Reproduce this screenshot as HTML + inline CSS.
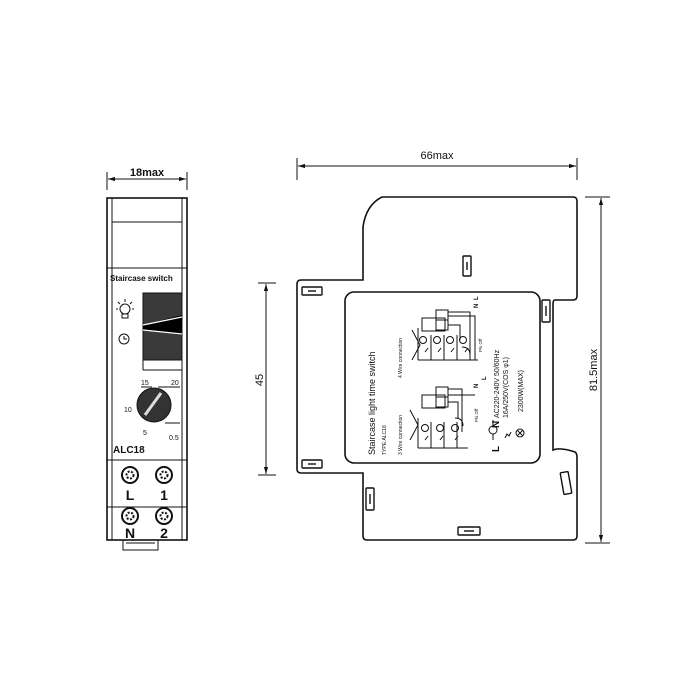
<!DOCTYPE html>
<html><head><meta charset="utf-8"><style>
html,body{margin:0;padding:0;background:#fff;}
svg{display:block;}
text{font-family:"Liberation Sans",sans-serif;fill:#111;}
</style></head><body>
<svg width="700" height="700" viewBox="0 0 700 700" xmlns="http://www.w3.org/2000/svg">
<defs>
<marker id="a" viewBox="0 0 10 10" refX="10" refY="5" markerWidth="7" markerHeight="7" orient="auto-start-reverse"><path d="M0,2 L10,5 L0,8 z" fill="#111"/></marker>
</defs>
<g stroke="#111" fill="none" stroke-width="1">
<line x1="107" y1="172" x2="107" y2="190"/><line x1="187" y1="172" x2="187" y2="190"/>
<line x1="108" y1="179" x2="186" y2="179" marker-start="url(#a)" marker-end="url(#a)"/>
<rect x="107" y="198" width="80" height="342" stroke-width="1.6"/>
<line x1="112" y1="198" x2="112" y2="540"/><line x1="182" y1="198" x2="182" y2="540"/>
<rect x="112" y="198" width="70" height="24"/>
<line x1="107" y1="268" x2="187" y2="268"/>
<rect x="143" y="293" width="39" height="67" fill="#3a3a3a"/>
<path d="M143,325 L182,315 L182,335 L143,330 z" fill="#000" stroke="none"/>
<path d="M143,325 L182,317 M143,330 L182,334" stroke="#fff" stroke-width="1.2"/>
<line x1="143" y1="360" x2="143" y2="370"/><line x1="143" y1="370" x2="182" y2="370"/>
<circle cx="125" cy="309" r="5"/><rect x="122" y="314" width="6" height="4"/>
<path d="M118,302 l2,2 M125,299 v3 M132,302 l-2,2 M116,309 h2 M134,309 h-2"/>
<circle cx="124" cy="339" r="5"/><path d="M124,336 v3 h3"/>
<circle cx="154" cy="405" r="17" fill="#333"/>
<line x1="145" y1="415" x2="161" y2="393" stroke="#ddd" stroke-width="3"/>
<line x1="141" y1="387" x2="152" y2="387"/><line x1="158" y1="387" x2="180" y2="387"/>
<line x1="165" y1="423" x2="180" y2="423"/>
<line x1="107" y1="460" x2="187" y2="460"/>
<line x1="107" y1="507" x2="187" y2="507"/>
<g stroke-width="2">
<circle cx="130" cy="475" r="8"/><circle cx="130" cy="475" r="3.5" stroke-dasharray="2 1.5"/>
<circle cx="164" cy="475" r="8"/><circle cx="164" cy="475" r="3.5" stroke-dasharray="2 1.5"/>
<circle cx="130" cy="516" r="8"/><circle cx="130" cy="516" r="3.5" stroke-dasharray="2 1.5"/>
<circle cx="164" cy="516" r="8"/><circle cx="164" cy="516" r="3.5" stroke-dasharray="2 1.5"/>
</g>
<path d="M123,540 v10 h35 v-10"/>
<line x1="126" y1="543" x2="155" y2="543"/>

<line x1="297" y1="158" x2="297" y2="180"/><line x1="577" y1="158" x2="577" y2="180"/>
<line x1="298" y1="166" x2="576" y2="166" marker-start="url(#a)" marker-end="url(#a)"/>
<line x1="258" y1="283" x2="276" y2="283"/><line x1="258" y1="475" x2="276" y2="475"/>
<line x1="266" y1="284" x2="266" y2="474" marker-start="url(#a)" marker-end="url(#a)"/>
<line x1="585" y1="197" x2="610" y2="197"/><line x1="585" y1="543" x2="610" y2="543"/>
<line x1="601" y1="198" x2="601" y2="542" marker-start="url(#a)" marker-end="url(#a)"/>
<path stroke-width="1.6" d="M382,197 L573,197 Q577,197 577,201 L577,296 Q577,300 573,300 L555,300 Q553,300 553,304 L553,450 Q560,447 575,452 Q577,453 577,458 L577,536 Q577,540 573,540 L367,540 Q363,540 363,536 L363,473 L301,473 Q297,473 297,469 L297,284 Q297,280 301,280 L363,280 L363,227 Q366,205 382,197 z"/>
<g stroke-width="1.4">
<rect x="463" y="256" width="8" height="20" rx="1"/><line x1="467" y1="262" x2="467" y2="270"/>
<rect x="302" y="287" width="20" height="8" rx="1"/><line x1="308" y1="291" x2="316" y2="291"/>
<rect x="302" y="460" width="20" height="8" rx="1"/><line x1="308" y1="464" x2="316" y2="464"/>
<rect x="542" y="300" width="8" height="22" rx="1"/><line x1="546" y1="306" x2="546" y2="316"/>
<rect x="366" y="488" width="8" height="22" rx="1"/><line x1="370" y1="494" x2="370" y2="504"/>
<rect x="562" y="472" width="8" height="22" rx="1" transform="rotate(-10 566 483)"/>
<rect x="458" y="527" width="22" height="8" rx="1"/><line x1="464" y1="531" x2="474" y2="531"/>
</g>
<rect x="345" y="292" width="195" height="171" rx="9" stroke-width="1.6"/>
<g stroke-width="1">
<rect x="422" y="318" width="23" height="13"/><rect x="436" y="310" width="12" height="20"/>
<line x1="436" y1="320" x2="448" y2="320"/>
<path d="M448,312 H470 V360 M448,316 H475 V360 M448,325 H460 V340"/>
<line x1="418" y1="328" x2="418" y2="360"/>
<line x1="418" y1="360" x2="478" y2="360"/>
<line x1="431" y1="335" x2="431" y2="360"/><line x1="444" y1="335" x2="444" y2="360"/><line x1="457" y1="335" x2="457" y2="360"/>
<circle cx="423" cy="340" r="3.5"/><circle cx="437" cy="340" r="3.5"/><circle cx="450" cy="340" r="3.5"/><circle cx="463" cy="340" r="3.5"/>
<path d="M425,352 l3,-4 M438,352 l3,-4 M451,352 l3,-4 M465,352 l3,-4"/>
<path d="M412,330 L420,345 L412,360"/>
<path d="M462,347 q8,0 8,8"/>
<rect x="422" y="395" width="23" height="13"/><rect x="436" y="387" width="12" height="20"/>
<line x1="436" y1="397" x2="448" y2="397"/>
<path d="M448,389 H462 V432 M448,395 H475 M448,402 H458 V418"/>
<line x1="418" y1="418" x2="418" y2="448"/>
<line x1="418" y1="448" x2="468" y2="448"/>
<line x1="431" y1="422" x2="431" y2="448"/><line x1="444" y1="422" x2="444" y2="448"/><line x1="457" y1="422" x2="457" y2="448"/>
<circle cx="425" cy="428" r="3.5"/><circle cx="440" cy="428" r="3.5"/><circle cx="455" cy="428" r="3.5"/>
<path d="M425,440 l3,-4 M440,440 l3,-4 M455,440 l3,-4"/>
<path d="M410,410 L418,425 L410,440"/>
<path d="M455,418 q8,0 8,8"/>
<circle cx="493" cy="430" r="4"/><line x1="493" y1="434" x2="493" y2="440"/><line x1="493" y1="420" x2="493" y2="426"/>
<path d="M505,438 l2,-4 l2,2 l2,-4"/>
<circle cx="520" cy="433" r="4"/><path d="M517,430 l6,6 M523,430 l-6,6"/>
</g>
</g>
<text x="147" y="176" font-size="11" text-anchor="middle" font-weight="bold">18max</text>
<text x="437" y="159" font-size="11" text-anchor="middle">66max</text>
<text x="263" y="380" font-size="11" text-anchor="middle" transform="rotate(-90 263 380)">45</text>
<text x="597" y="370" font-size="11" text-anchor="middle" transform="rotate(-90 597 370)">81.5max</text>
<text x="110" y="281" font-size="8" font-weight="bold">Staircase switch</text>
<text x="141" y="385" font-size="7">15</text><text x="171" y="385" font-size="7">20</text>
<text x="124" y="412" font-size="7">10</text><text x="143" y="435" font-size="7">5</text>
<text x="169" y="440" font-size="7">0.5</text>
<text x="113" y="453" font-size="10" font-weight="bold">ALC18</text>
<text x="130" y="500" font-size="14" text-anchor="middle" font-weight="bold">L</text>
<text x="164" y="500" font-size="14" text-anchor="middle" font-weight="bold">1</text>
<text x="130" y="538" font-size="14" text-anchor="middle" font-weight="bold">N</text>
<text x="164" y="538" font-size="14" text-anchor="middle" font-weight="bold">2</text>
<g font-size="7">
<text transform="translate(375,455) rotate(-90)" font-size="9">Staircase light time switch</text>
<text transform="translate(386,455) rotate(-90)" font-size="5">TYPE:ALC18</text>
<text transform="translate(402,455) rotate(-90)" font-size="5">3 Wire connection</text>
<text transform="translate(402,378) rotate(-90)" font-size="5">4 Wire connection</text>
<text transform="translate(499,452) rotate(-90)" font-size="10" font-weight="bold">L</text>
<text transform="translate(499,428) rotate(-90)" font-size="10" font-weight="bold">N</text>
<text transform="translate(499,418) rotate(-90)" font-size="7">AC220-240V 50/60Hz</text>
<text transform="translate(508,418) rotate(-90)" font-size="7">16A/250V(COS φ1)</text>
<text transform="translate(523,412) rotate(-90)" font-size="7">2300W(MAX)</text>
<text transform="translate(478,308) rotate(-90)" font-size="6" font-weight="bold">N</text>
<text transform="translate(478,300) rotate(-90)" font-size="6" font-weight="bold">L</text>
<text transform="translate(478,388) rotate(-90)" font-size="6" font-weight="bold">N</text>
<text transform="translate(486,380) rotate(-90)" font-size="6" font-weight="bold">L</text>
<text transform="translate(482,352) rotate(-90)" font-size="4.5">Pls Off</text>
<text transform="translate(478,422) rotate(-90)" font-size="4.5">Pls Off</text>
</g>
</svg>
</body></html>
